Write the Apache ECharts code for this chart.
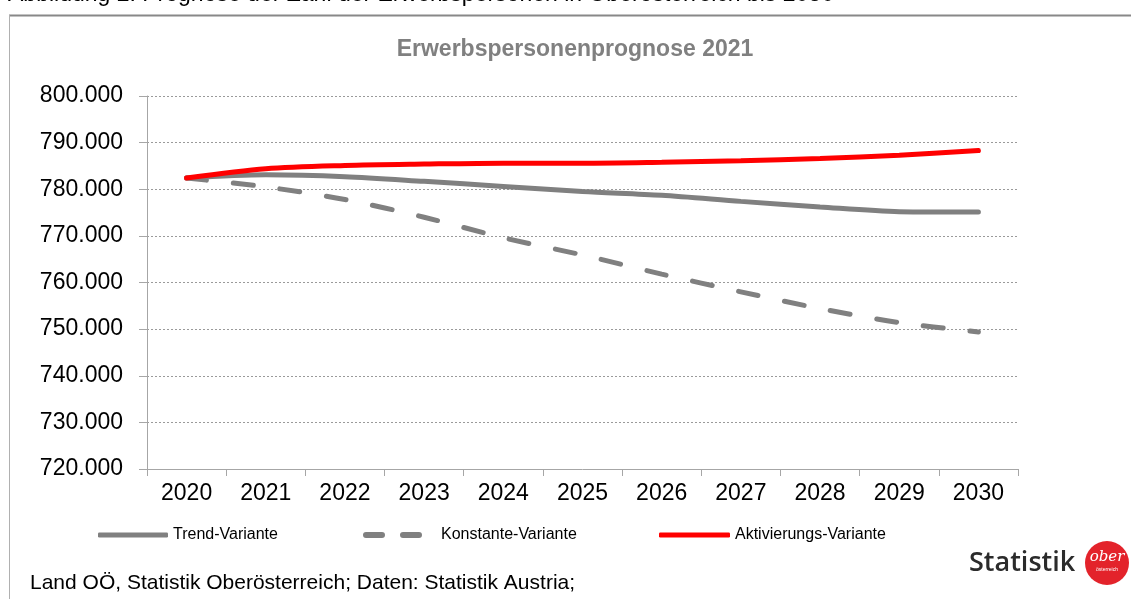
<!DOCTYPE html>
<html>
<head>
<meta charset="utf-8">
<script src="https://cdn.jsdelivr.net/npm/echarts@6/dist/echarts.min.js"></script>
<style>
html,body{margin:0;padding:0;background:#fff;}
#c{width:1131px;height:599px;}
</style>
</head>
<body>
<div id="c"></div>
<script>
var years = ['2020','2021','2022','2023','2024','2025','2026','2027','2028','2029','2030'];
var trend = [782400, 783100, 782700, 781700, 780600, 779500, 778700, 777400, 776200, 775200, 775100];
var konstante = [782400, 780500, 777800, 774000, 769600, 765900, 761800, 758000, 754400, 751400, 749400];
var aktivierung = [782400, 784400, 785100, 785400, 785600, 785600, 785800, 786100, 786600, 787300, 788300];
var yTicks = [720000, 730000, 740000, 750000, 760000, 770000, 780000, 790000, 800000];
var seriesNames = ['Trend-Variante', 'Konstante-Variante', 'Aktivierungs-Variante'];

var FONT = 'Liberation Sans, Arial, sans-serif';
function fmt(v){ return String(v).replace(/\B(?=(\d{3})+(?!\d))/g, '.'); }
var legText = {fontSize:16, fontFamily:FONT, color:'#000'};
var dashIcon = 'path://M3,0h16a3,3 0 0 1 0,6h-16a3,3 0 0 1 0,-6z M40,0h16a3,3 0 0 1 0,6h-16a3,3 0 0 1 0,-6z';

var chart = echarts.init(document.getElementById('c'), null, {renderer:'canvas'});
chart.setOption({
  animation:false,
  backgroundColor:'#fff',
  grid:{left:147, right:113, top:96, bottom:130, containLabel:false},
  xAxis:{
    type:'category', data:years, boundaryGap:true,
    axisLine:{lineStyle:{color:'#a6a6a6', width:1}},
    axisTick:{show:true, length:7, lineStyle:{color:'#a6a6a6'}},
    axisLabel:{color:'#000', fontSize:23, fontFamily:FONT, margin:13, interval:0}
  },
  yAxis:{
    type:'value', min:yTicks[0], max:yTicks[yTicks.length-1], interval:10000,
    axisLine:{show:true, lineStyle:{color:'#a6a6a6', width:1}},
    axisTick:{show:true, length:8, lineStyle:{color:'#a6a6a6'}},
    axisLabel:{color:'#000', fontSize:23, fontFamily:FONT, margin:24, formatter:fmt},
    splitLine:{show:true, lineStyle:{color:'#9a9a9a', width:1, type:[2,2]}}
  },
  legend:[
    {data:[{name:seriesNames[0], icon:'roundRect'}], icon:'roundRect', left:93, top:522, itemWidth:70, itemHeight:5, textStyle:legText, itemGap:0},
    {data:[{name:seriesNames[1], icon:dashIcon}], icon:dashIcon, left:358, top:522, itemWidth:59, itemHeight:6, itemGap:0,
     textStyle:{fontSize:16, fontFamily:FONT, color:'#000', padding:[0,0,0,14]}},
    {data:[{name:seriesNames[2], icon:'roundRect'}], icon:'roundRect', left:654, top:522, itemWidth:71, itemHeight:5, textStyle:legText, itemGap:0}
  ],
  series:[
    {name:seriesNames[0], type:'line', data:trend, symbol:'none', smooth:0.3,
     lineStyle:{color:'#808080', width:5, cap:'round'}, itemStyle:{color:'#808080'}},
    {name:seriesNames[1], type:'line', data:konstante, symbol:'none', smooth:0.3,
     lineStyle:{color:'#808080', width:5, type:[20,27], cap:'round'}, itemStyle:{color:'#808080'}},
    {name:seriesNames[2], type:'line', data:aktivierung, symbol:'none', smooth:0.3, z:3,
     lineStyle:{color:'#ff0000', width:5, cap:'round'}, itemStyle:{color:'#ff0000'}}
  ],
  graphic:[
    {type:'text', left:8, top:-17, style:{text:'Abbildung 2: Prognose der Zahl der Erwerbspersonen in Oberösterreich bis 2030', font:'23px '+FONT, fill:'#000'}},
    {type:'line', shape:{x1:9, y1:15.5, x2:1131, y2:15.5}, style:{stroke:'#888', lineWidth:2}},
    {type:'line', shape:{x1:9.5, y1:15, x2:9.5, y2:599}, style:{stroke:'#b0b0b0', lineWidth:1}},
    {type:'text', x:575, y:50, style:{text:'Erwerbspersonenprognose 2021', font:'bold 23px '+FONT, fill:'#808080', align:'center', verticalAlign:'middle'}},
    {type:'text', x:30, y:583, style:{text:'Land OÖ, Statistik Oberösterreich; Daten: Statistik Austria;', font:'21px '+FONT, fill:'#000', verticalAlign:'middle'}},
    {type:'text', x:969, y:563, style:{text:'Statistik', font:'600 27px "Open Sans", sans-serif', fill:'#2b2b2b', verticalAlign:'middle'}},
    {type:'circle', shape:{cx:1107, cy:563, r:22}, style:{fill:'#e3232b'}},
    {type:'text', x:1107, y:557, style:{text:'ober', font:'italic 15px "DejaVu Serif", serif', fill:'#fff', align:'center', verticalAlign:'middle'}},
    {type:'text', x:1107, y:570, style:{text:'österreich', font:'5px '+FONT, fill:'#fff', align:'center', verticalAlign:'middle'}}
  ]
});
</script>
</body>
</html>
